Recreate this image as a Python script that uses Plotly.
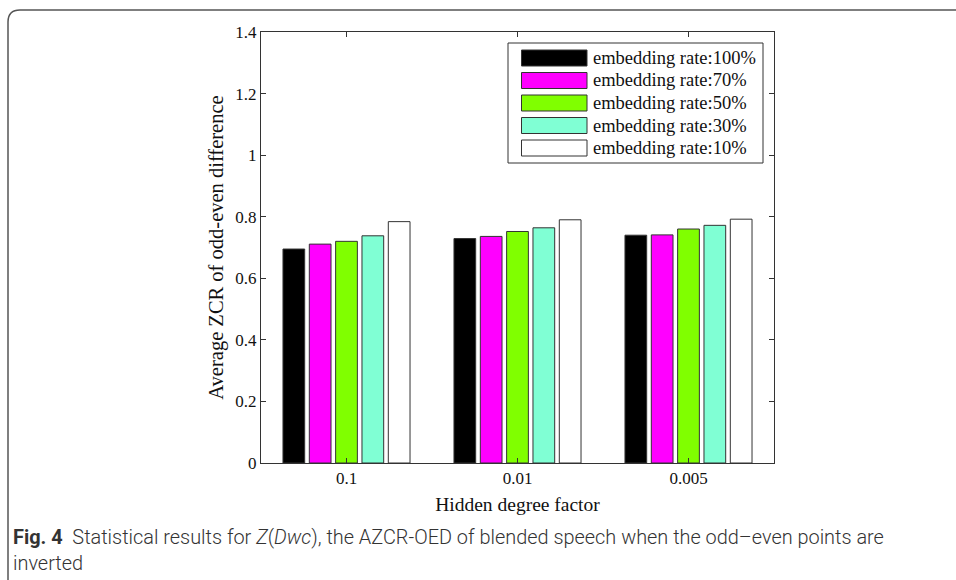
import plotly.graph_objects as go

categories = ["0.1", "0.01", "0.005"]
series_names = ["embedding rate:100%", "embedding rate:70%", "embedding rate:50%",
                "embedding rate:30%", "embedding rate:10%"]
rate_100 = [0.695, 0.729, 0.740]
rate_70 = [0.711, 0.736, 0.741]
rate_50 = [0.720, 0.752, 0.760]
rate_30 = [0.738, 0.764, 0.772]
rate_10 = [0.784, 0.790, 0.792]
series_values = [rate_100, rate_70, rate_50, rate_30, rate_10]
colors = ["#000000", "#FF00FF", "#80FF00", "#80FFD4", "#FFFFFF"]
y_ticks = [0, 0.2, 0.4, 0.6, 0.8, 1.0, 1.2, 1.4]

W, H = 956, 580
PX0, PX1, PY0, PY1 = 261, 774, 32, 463


def px(x):
    return (x - PX0) / (PX1 - PX0)


def py(y):
    return (PY1 - y) / (PY1 - PY0)


SERIF = "Liberation Serif, Times New Roman, serif"
CAP = "Roboto, Noto Sans, sans-serif"
LINE = "#333333"

fig = go.Figure()
for name, vals, col in zip(series_names, series_values, colors):
    fig.add_trace(go.Bar(x=categories, y=vals, name=name,
                         marker=dict(color=col, line=dict(color=LINE, width=1)),
                         showlegend=False))

shapes = []
annotations = []

# legend box
shapes.append(dict(type="rect", xref="paper", yref="paper",
                   x0=px(508), x1=px(763), y0=py(163), y1=py(43),
                   line=dict(color=LINE, width=1), fillcolor="white", layer="above"))
row_y = [58, 80.5, 103, 125.5, 148]
for name, col, cy in zip(series_names, colors, row_y):
    shapes.append(dict(type="rect", xref="paper", yref="paper",
                       x0=px(521.5), x1=px(587), y0=py(cy + 8), y1=py(cy - 8),
                       line=dict(color=LINE, width=1), fillcolor=col, layer="above"))
    annotations.append(dict(text=name, xref="paper", yref="paper",
                            x=px(591), y=py(cy), xanchor="left", yanchor="middle",
                            showarrow=False, font=dict(family=SERIF, size=18.5, color="#111")))

# outer frame
frame_path = (f"M {px(8)},{py(580)} L {px(8)},{py(22)} "
              f"Q {px(8)},{py(10)} {px(20)},{py(10)} L {px(956)},{py(10)}")
shapes.append(dict(type="path", xref="paper", yref="paper", path=frame_path,
                   line=dict(color="#555555", width=1.5)))

# caption
annotations.append(dict(text="<b>Fig. 4</b>  Statistical results for <i>Z</i>(<i>Dwc</i>), the AZCR-OED of blended speech when the odd\u2013even points are",
                        xref="paper", yref="paper", x=px(11), y=py(537),
                        xanchor="left", yanchor="middle", showarrow=False,
                        font=dict(family=CAP, size=19.9, color="#333", weight=300)))
annotations.append(dict(text="inverted",
                        xref="paper", yref="paper", x=px(11), y=py(563),
                        xanchor="left", yanchor="middle", showarrow=False,
                        font=dict(family=CAP, size=19.9, color="#333", weight=300)))

fig.update_layout(
    width=W, height=H,
    margin=dict(l=PX0, r=W - PX1, t=PY0, b=H - PY1),
    paper_bgcolor="white", plot_bgcolor="white",
    barmode="group", bargap=0.23, bargroupgap=0.175,
    shapes=shapes, annotations=annotations,
    font=dict(family=SERIF, size=16, color="#111"),
    xaxis=dict(type="category", range=[-0.5, 2.5], showline=True, linecolor=LINE,
               linewidth=1, mirror="ticks", ticks="inside", ticklen=5, tickcolor=LINE,
               showgrid=False, zeroline=False,
               tickfont=dict(family=SERIF, size=17),
               title=dict(text="Hidden degree factor", font=dict(family=SERIF, size=19.5),
                          standoff=9)),
    yaxis=dict(range=[0, 1.4], tickvals=y_ticks, showline=True, linecolor=LINE,
               linewidth=1, mirror="ticks", ticks="inside", ticklen=5, tickcolor=LINE,
               showgrid=False, zeroline=False,
               tickfont=dict(family=SERIF, size=17),
               title=dict(text="Average ZCR of odd-even difference",
                          font=dict(family=SERIF, size=20.5), standoff=6)),
)

fig.write_html("out.html")
